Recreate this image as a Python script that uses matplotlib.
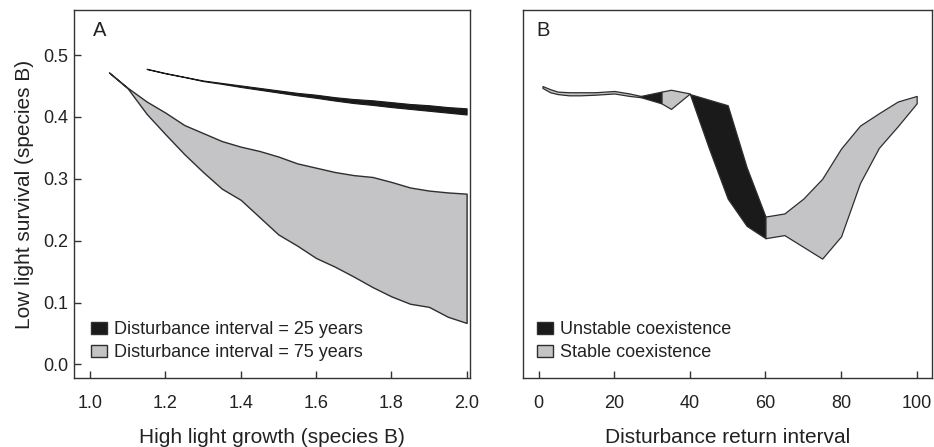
import matplotlib
matplotlib.use("Agg")
import matplotlib.pyplot as plt
from matplotlib.patches import Patch

plt.rcParams["font.family"] = ["Liberation Sans", "DejaVu Sans"]

# Panel A: high light growth vs low light survival
growth_x = [1.05, 1.10, 1.15, 1.20, 1.25, 1.30, 1.35, 1.40, 1.45, 1.50,
            1.55, 1.60, 1.65, 1.70, 1.75, 1.80, 1.85, 1.90, 1.95, 2.00]
d75_upper = [0.472, 0.447, 0.425, 0.407, 0.387, 0.374, 0.361, 0.352, 0.345, 0.336,
             0.325, 0.318, 0.311, 0.306, 0.303, 0.295, 0.286, 0.281, 0.278, 0.276]
d75_lower = [0.472, 0.446, 0.405, 0.372, 0.340, 0.311, 0.284, 0.266, 0.238, 0.210,
             0.192, 0.172, 0.158, 0.142, 0.125, 0.110, 0.098, 0.093, 0.077, 0.067]

growth_x25 = [1.15, 1.20, 1.25, 1.30, 1.35, 1.40, 1.45, 1.50, 1.55,
              1.60, 1.65, 1.70, 1.75, 1.80, 1.85, 1.90, 1.95, 2.00]
d25_upper = [0.478, 0.471, 0.465, 0.459, 0.455, 0.451, 0.447, 0.443, 0.439,
             0.436, 0.432, 0.429, 0.427, 0.424, 0.421, 0.419, 0.416, 0.414]
d25_lower = [0.4775, 0.4705, 0.4645, 0.4580, 0.4535, 0.4485, 0.4440, 0.4395, 0.4350,
             0.4310, 0.4265, 0.4225, 0.4195, 0.4160, 0.4130, 0.4100, 0.4070, 0.4040]

# Panel B: disturbance return interval
thin_x = [1, 3, 5, 8, 11, 15, 20, 24, 27]
thin_hi = [0.450, 0.445, 0.441, 0.440, 0.440, 0.440, 0.442, 0.438, 0.434]
thin_lo = [0.447, 0.440, 0.437, 0.435, 0.435, 0.436, 0.438, 0.434, 0.432]

unst1_x = [27, 32.5]
unst1_hi = [0.434, 0.441]
unst1_lo = [0.432, 0.422]

stab1_x = [32.5, 35, 40]
stab1_hi = [0.441, 0.444, 0.438]
stab1_lo = [0.422, 0.413, 0.438]

unst2_x = [40, 45, 50, 55, 60]
unst2_hi = [0.437, 0.428, 0.419, 0.319, 0.239]
unst2_lo = [0.437, 0.350, 0.268, 0.224, 0.204]

stab2_x = [60, 65, 70, 75, 80, 85, 90, 95, 100]
stab2_hi = [0.239, 0.244, 0.268, 0.300, 0.349, 0.386, 0.406, 0.425, 0.434]
stab2_lo = [0.204, 0.209, 0.190, 0.171, 0.207, 0.293, 0.350, 0.385, 0.422]

BLACK = "#1a1a1a"
GRAY = "#c4c4c6"
EDGE = "#2e2e2e"
TXT = "#222222"

fig = plt.figure(figsize=(9.34, 4.47), dpi=100)
axA = fig.add_axes([0.0792, 0.1544, 0.424, 0.8233])
axB = fig.add_axes([0.5603, 0.1544, 0.4372, 0.8233])

axA.fill_between(growth_x, d75_lower, d75_upper, facecolor=GRAY, edgecolor=EDGE, lw=1.0)
axA.fill_between(growth_x25, d25_lower, d25_upper, facecolor=BLACK, edgecolor=BLACK, lw=0.8)

axB.fill_between(thin_x, thin_lo, thin_hi, facecolor=GRAY, edgecolor=EDGE, lw=0.9)
axB.fill_between(unst1_x, unst1_lo, unst1_hi, facecolor=BLACK, edgecolor=EDGE, lw=0.9)
axB.fill_between(stab1_x, stab1_lo, stab1_hi, facecolor=GRAY, edgecolor=EDGE, lw=0.9)
axB.fill_between(unst2_x, unst2_lo, unst2_hi, facecolor=BLACK, edgecolor=EDGE, lw=0.9)
axB.fill_between(stab2_x, stab2_lo, stab2_hi, facecolor=GRAY, edgecolor=EDGE, lw=0.9)

for ax in (axA, axB):
    ax.set_ylim(-0.022, 0.573)
    for s in ax.spines.values():
        s.set_color("#333333")
        s.set_linewidth(1.0)
    ax.tick_params(direction="in", length=5, width=1.0, color="#333333",
                   labelsize=13, labelcolor=TXT)
    ax.tick_params(axis="x", pad=12)

axA.set_xlim(0.957, 2.009)
axA.set_xticks([1.0, 1.2, 1.4, 1.6, 1.8, 2.0])
axA.set_xticklabels(["1.0", "1.2", "1.4", "1.6", "1.8", "2.0"])
axA.set_yticks([0.0, 0.1, 0.2, 0.3, 0.4, 0.5])
axA.set_yticklabels(["0.0", "0.1", "0.2", "0.3", "0.4", "0.5"])
axA.tick_params(axis="y", pad=4)
axA.set_xlabel("High light growth (species B)", fontsize=15, color=TXT, labelpad=12)
axA.set_ylabel("Low light survival (species B)", fontsize=15, color=TXT, labelpad=7)

axB.set_xlim(-4.07, 103.97)
axB.set_xticks([0, 20, 40, 60, 80, 100])
axB.set_yticks([])
axB.set_xlabel("Disturbance return interval", fontsize=15, color=TXT, labelpad=12)

axA.text(0.048, 0.943, "A", transform=axA.transAxes, fontsize=14.5, color=TXT, va="center")
axB.text(0.033, 0.943, "B", transform=axB.transAxes, fontsize=14.5, color=TXT, va="center")

legA = [Patch(facecolor=BLACK, edgecolor=EDGE, label="Disturbance interval = 25 years"),
        Patch(facecolor=GRAY, edgecolor=EDGE, label="Disturbance interval = 75 years")]
axA.legend(handles=legA, loc="lower left", bbox_to_anchor=(0.042, 0.045), frameon=False,
           fontsize=13, handlelength=0.9, handleheight=0.65, handletextpad=0.4,
           labelspacing=0.35, borderpad=0, borderaxespad=0, labelcolor=TXT)

legB = [Patch(facecolor=BLACK, edgecolor=EDGE, label="Unstable coexistence"),
        Patch(facecolor=GRAY, edgecolor=EDGE, label="Stable coexistence")]
axB.legend(handles=legB, loc="lower left", bbox_to_anchor=(0.033, 0.045), frameon=False,
           fontsize=13, handlelength=0.9, handleheight=0.65, handletextpad=0.4,
           labelspacing=0.35, borderpad=0, borderaxespad=0, labelcolor=TXT)

fig.savefig("out.png", dpi=100)
